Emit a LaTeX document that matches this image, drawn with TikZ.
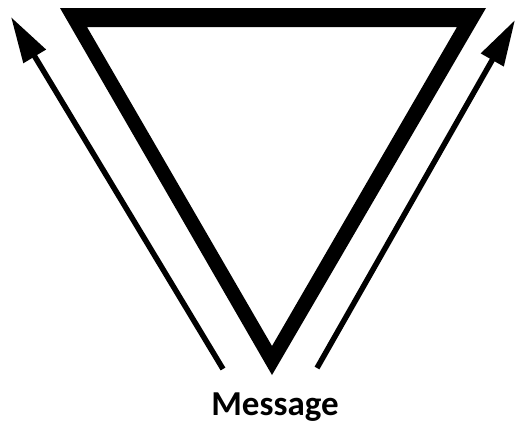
\documentclass[tikz,border=0pt]{standalone}
\usepackage{fontspec}
\setmainfont{Carlito}
\usetikzlibrary{arrows.meta}
\begin{document}
\begin{tikzpicture}[x=1pt,y=-1pt,
  flowarrow/.style={line width=5.5pt,-{Triangle[length=46pt,width=25pt]}},
  labeltext/.style={font=\bfseries\fontsize{35}{40}\selectfont,anchor=base,inner sep=0pt}]
\useasboundingbox (0,0) rectangle (517,424);
% triangle frame
\fill[black,even odd rule] (60,8) -- (486,8) -- (272,375) -- cycle
  (87,27) -- (457,27) -- (272,346) -- cycle;
% arrows
\coordinate (ltail) at (223,369);
\coordinate (lhead) at (11,17);
\coordinate (rtail) at (317,368);
\coordinate (rhead) at (515,20);
\draw[flowarrow] (ltail) -- (lhead);
\draw[flowarrow] (rtail) -- (rhead);
\node[labeltext] (msg) at (275,415) {Message};
\end{tikzpicture}
\end{document}
